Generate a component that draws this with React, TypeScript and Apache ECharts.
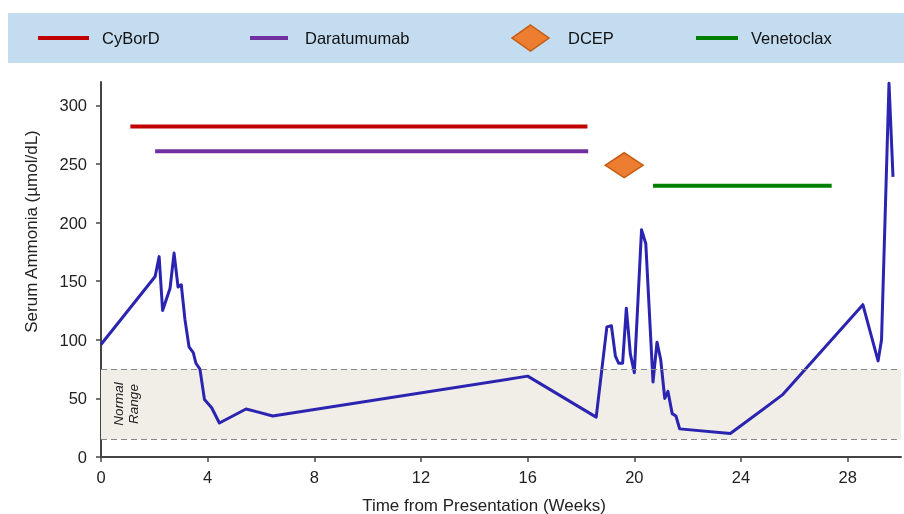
import React, { useEffect, useRef } from "react";
import * as echarts from "echarts";

// ---- data ----
const weeks = [0, 2.03, 2.18, 2.31, 2.59, 2.74, 2.89, 3.01, 3.15, 3.3, 3.46, 3.56, 3.71, 3.88, 4.15, 4.44, 5.44, 6.44, 16.0, 18.57, 18.97, 19.14, 19.29, 19.41, 19.56, 19.7, 19.85, 20.0, 20.27, 20.43, 20.7, 20.85, 20.99, 21.14, 21.26, 21.42, 21.56, 21.7, 23.6, 25.55, 28.57, 29.14, 29.27, 29.55, 29.7];
const ammonia = [96, 154, 171, 125, 144, 174, 145, 147, 117, 94, 89, 80, 75, 49, 42, 29, 41, 35, 69, 34, 111, 112, 86, 80, 80, 127, 88, 72, 194, 182, 64, 98, 83, 50, 56, 37, 35, 24, 20, 53, 130, 82, 100, 319, 239];

const treatments = ["CyBorD", "Daratumumab", "Venetoclax"];
const treatmentStart = [1.1, 2.03, 20.7];
const treatmentEnd = [18.24, 18.27, 27.4];
const treatmentLevel = [282, 261, 231.5];
const treatmentColors = ["#c00000", "#7030a0", "#008000"];

const dcepName = "DCEP";
const dcepWeek = [19.62];
const dcepLevel = [249];

const normalRange = [15, 75];

const xTicks = [0, 4, 8, 12, 16, 20, 24, 28];
const yTicks = [0, 50, 100, 150, 200, 250, 300];

const FONT = "'Liberation Sans', Arial, sans-serif";

// legend layout (positions only)
const legendLayout = [
  { name: "CyBorD", kind: "line", x1: 38, x2: 89, tx: 102, color: "#c00000" },
  { name: "Daratumumab", kind: "line", x1: 250, x2: 288, tx: 305, color: "#7030a0" },
  { name: "DCEP", kind: "diamond", x1: 512, x2: 549, tx: 568, color: "#ed7d31" },
  { name: "Venetoclax", kind: "line", x1: 696, x2: 738, tx: 751, color: "#008000" },
];

export default function App() {
  const ref = useRef<HTMLDivElement>(null);
  useEffect(() => {
    if (!ref.current) return;
    const chart = echarts.init(ref.current, undefined, { renderer: "svg" });

    const treatmentSeries = treatments.map((name, i) => ({
      name,
      type: "line",
      data: [
        [treatmentStart[i], treatmentLevel[i]],
        [treatmentEnd[i], treatmentLevel[i]],
      ],
      showSymbol: false,
      symbol: "none",
      lineStyle: { color: treatmentColors[i], width: 4, cap: "butt" },
      itemStyle: { color: treatmentColors[i] },
      z: 3,
    }));

    const legendY = 38;
    const legendGraphics: any[] = [
      {
        type: "rect",
        shape: { x: 8, y: 13, width: 896, height: 50 },
        style: { fill: "#c3dcf0" },
        z: 0,
      },
    ];
    legendLayout.forEach((l) => {
      if (l.kind === "line") {
        legendGraphics.push({
          type: "line",
          shape: { x1: l.x1, y1: legendY, x2: l.x2, y2: legendY },
          style: { stroke: l.color, lineWidth: 4 },
          z: 1,
        });
      } else {
        const cx = (l.x1 + l.x2) / 2;
        const hw = (l.x2 - l.x1) / 2;
        legendGraphics.push({
          type: "polygon",
          shape: {
            points: [
              [cx, legendY - 13],
              [cx + hw, legendY],
              [cx, legendY + 13],
              [cx - hw, legendY],
            ],
          },
          style: { fill: l.color, stroke: "#c55a11", lineWidth: 1.5 },
          z: 1,
        });
      }
      legendGraphics.push({
        type: "text",
        x: l.tx,
        y: legendY,
        style: {
          text: l.name,
          font: `16.5px ${FONT}`,
          fill: "#111",
          verticalAlign: "middle",
          align: "left",
        },
        z: 1,
      });
    });

    legendGraphics.push({
      type: "text",
      x: 126,
      y: 404,
      rotation: Math.PI / 2,
      style: {
        text: "Normal\nRange",
        font: `italic 13.5px ${FONT}`,
        fill: "#222",
        align: "center",
        verticalAlign: "middle",
        lineHeight: 15,
      },
      z: 5,
    });

    chart.setOption({
      animation: false,
      textStyle: { fontFamily: FONT },
      grid: { left: 101, right: 3, top: 82, bottom: 57, containLabel: false, outerBoundsMode: "none" },
      graphic: legendGraphics,
      xAxis: {
        type: "value",
        min: 0,
        max: 30,
        interval: 4,
        name: "Time from Presentation (Weeks)",
        nameLocation: "middle",
        nameGap: 40,
        nameTextStyle: { fontSize: 17, color: "#222", fontFamily: FONT, padding: [0, 34, 0, 0] },
        axisLine: { lineStyle: { color: "#444", width: 2 } },
        axisTick: { show: true, length: 5, lineStyle: { color: "#444", width: 1.5 }, customValues: xTicks },
        axisLabel: { fontSize: 16.5, color: "#222", margin: 11, fontFamily: FONT, customValues: xTicks },
        splitLine: { show: false },
      },
      yAxis: {
        type: "value",
        min: 0,
        max: 320,
        interval: 50,
        name: "Serum Ammonia (µmol/dL)",
        nameLocation: "middle",
        nameGap: 61,
        nameTextStyle: { fontSize: 17, color: "#222", fontFamily: FONT, padding: [0, 0, 0, 76] },
        axisLine: { show: true, lineStyle: { color: "#444", width: 2 } },
        axisTick: { show: true, length: 5, lineStyle: { color: "#444", width: 1.5 }, customValues: yTicks },
        axisLabel: { fontSize: 16.5, color: "#222", margin: 14, fontFamily: FONT, customValues: yTicks },
        splitLine: { show: false },
      },
      series: [
        {
          name: "Serum Ammonia",
          type: "line",
          data: weeks.map((w, i) => [w, ammonia[i]]),
          showSymbol: false,
          symbol: "none",
          lineStyle: { color: "#2b24b0", width: 3, join: "round" },
          itemStyle: { color: "#2b24b0" },
          z: 4,
          markArea: {
            silent: true,
            itemStyle: { color: "#f1eee8" },
            data: [[{ yAxis: normalRange[0] }, { yAxis: normalRange[1] }]],
          },
          markLine: {
            silent: true,
            symbol: "none",
            label: { show: false },
            lineStyle: { color: "#888", type: [6, 4], width: 1 },
            data: [{ yAxis: normalRange[0] }, { yAxis: normalRange[1] }],
          },
        },
        ...treatmentSeries,
        {
          name: dcepName,
          type: "scatter",
          data: dcepWeek.map((w, i) => [w, dcepLevel[i]]),
          symbol: "diamond",
          symbolSize: [38, 25],
          itemStyle: { color: "#ed7d31", borderColor: "#c55a11", borderWidth: 1.5, opacity: 1 },
          z: 3,
        },
      ],
    });
    return () => chart.dispose();
  }, []);
  return (
    <div
      ref={ref}
      style={{ position: "fixed", left: 0, top: 0, width: 904, height: 514 }}
    />
  );
}
